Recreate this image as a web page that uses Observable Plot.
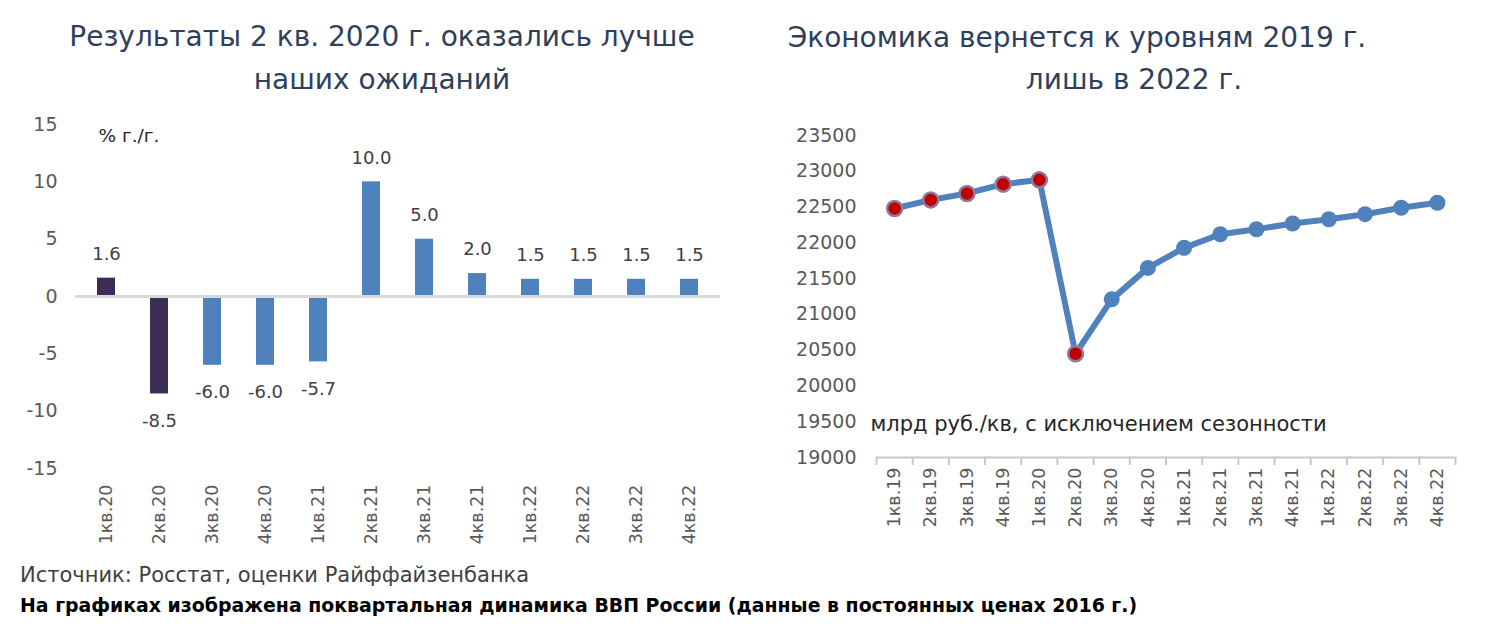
<!DOCTYPE html>
<html>
<head>
<meta charset="utf-8">
<script src="https://cdn.jsdelivr.net/npm/d3@7"></script>
<script src="https://cdn.jsdelivr.net/npm/@observablehq/plot@0.6"></script>
<style>
  body { margin: 0; background: #fff; }
  #page { position: relative; width: 1501px; height: 630px; background: #fff; font-family: "DejaVu Sans", sans-serif; overflow: hidden; }
  .t { position: absolute; white-space: nowrap; }
  .title { font-size: 28px; color: #2e3f5c; text-align: center; line-height: 32px; }
  #left, #right { position: absolute; top: 100px; }
  #left { left: 0; }
  #right { left: 760px; }
</style>
</head>
<body>
<div id="page">
  <div class="t title" style="left:32px; width:700px; top:21px;">Результаты 2 кв. 2020 г. оказались лучше</div>
  <div class="t title" style="left:32px; width:700px; top:64px;">наших ожиданий</div>
  <div class="t title" style="left:727px; width:700px; top:22px;">Экономика вернется к уровням 2019 г.</div>
  <div class="t title" style="left:784px; width:700px; top:64px;">лишь в 2022 г.</div>
  <div id="left"></div>
  <div id="right"></div>
  <div class="t" style="left:20px; top:563px; font-size:21px; color:#404040;">Источник: Росстат, оценки Райффайзенбанка</div>
  <div class="t" style="left:20px; top:594px; font-size:18.9px; font-weight:bold; color:#000;">На графиках изображена поквартальная динамика ВВП России (данные в постоянных ценах 2016 г.)</div>
</div>
<script>
// ---- Left chart data: GDP growth, % y/y
const growthQuarters = ["1кв.20","2кв.20","3кв.20","4кв.20","1кв.21","2кв.21","3кв.21","4кв.21","1кв.22","2кв.22","3кв.22","4кв.22"];
const growthValues   = [1.6, -8.5, -6.0, -6.0, -5.7, 10.0, 5.0, 2.0, 1.5, 1.5, 1.5, 1.5];
const growthStatus   = ["факт","факт","прогноз","прогноз","прогноз","прогноз","прогноз","прогноз","прогноз","прогноз","прогноз","прогноз"];
const growthTicks    = [-15, -10, -5, 0, 5, 10, 15];
const growthUnit     = "% г./г.";

// ---- Right chart data: GDP level, bn RUB per quarter, seasonally adjusted
const levelQuarters = ["1кв.19","2кв.19","3кв.19","4кв.19","1кв.20","2кв.20","3кв.20","4кв.20","1кв.21","2кв.21","3кв.21","4кв.21","1кв.22","2кв.22","3кв.22","4кв.22"];
const levelValues   = [22480, 22600, 22690, 22820, 22880, 20450, 21210, 21650, 21930, 22120, 22190, 22270, 22330, 22400, 22490, 22560];
const levelStatus   = ["факт","факт","факт","факт","факт","факт","прогноз","прогноз","прогноз","прогноз","прогноз","прогноз","прогноз","прогноз","прогноз","прогноз"];
const levelTicks    = [19000, 19500, 20000, 20500, 21000, 21500, 22000, 22500, 23000, 23500];
const levelUnit     = "млрд руб./кв, с исключением сезонности";

const growth = growthQuarters.map((q, i) => ({q, v: growthValues[i], s: growthStatus[i]}));
const level = levelQuarters.map((q, i) => ({i, q, v: levelValues[i], s: levelStatus[i]}));

const BLUE = "#4f81bd", DARK = "#3b2d55", RED = "#c00000";
const font = "DejaVu Sans, sans-serif";

const left = Plot.plot({
  width: 740, height: 460,
  marginTop: 24, marginBottom: 92, marginLeft: 75, marginRight: 20,
  style: {fontFamily: font, color: "#595959", background: "transparent"},
  x: {domain: growthQuarters, paddingInner: 0.665, paddingOuter: 0.3325, label: null},
  y: {domain: [-15, 15], label: null},
  marks: [
    Plot.axisY({ticks: growthTicks, tickSize: 0, tickPadding: 18, fontSize: 19, tickFormat: d => String(d)}),
    Plot.axisX({tickSize: 0, tickPadding: 16, tickRotate: -90, fontSize: 17.5}),
    Plot.barY(growth, {x: "q", y: "v", fill: d => d.s === "факт" ? DARK : BLUE}),
    Plot.ruleY([0], {stroke: "#d9d9d9", strokeWidth: 3}),
    Plot.text(growth.filter(d => d.v >= 0), {x: "q", y: "v", text: d => d.v.toFixed(1), dy: -24, fontSize: 18, fill: "#404040"}),
    Plot.text(growth.filter(d => d.v < 0), {x: "q", y: "v", text: d => d.v.toFixed(1), dy: 27, fontSize: 18, fill: "#404040"}),
    Plot.text([growthUnit], {frameAnchor: "top-left", text: d => d, dx: 23, dy: 4, textAnchor: "start", fontSize: 18.5, fill: "#262626"})
  ]
});
document.getElementById("left").appendChild(left);

const right = Plot.plot({
  width: 741, height: 460,
  marginTop: 35, marginBottom: 103, marginLeft: 116, marginRight: 46,
  style: {fontFamily: font, color: "#595959", background: "transparent"},
  x: {domain: [-0.5, levelQuarters.length - 0.5], label: null},
  y: {domain: [19000, 23500], label: null},
  marks: [
    Plot.axisY({ticks: levelTicks, tickSize: 0, tickPadding: 20, fontSize: 19, tickFormat: d => String(d)}),
    Plot.ruleY([19000], {stroke: "#c8c8c8", strokeWidth: 2}),
    Plot.axisX({ticks: d3.range(-0.5, levelQuarters.length), tickSize: 8, tickFormat: () => "", stroke: "#c8c8c8", strokeWidth: 2}),
    Plot.axisX({ticks: d3.range(levelQuarters.length), tickSize: 0, tickPadding: 10, tickRotate: -90, fontSize: 17.5, tickFormat: i => levelQuarters[i]}),
    Plot.text([levelUnit], {frameAnchor: "bottom-left", text: d => d, dx: -6, dy: -27, textAnchor: "start", fontSize: 21, fill: "#262626"}),
    Plot.line(level, {x: "i", y: "v", stroke: BLUE, strokeWidth: 6, strokeLinejoin: "round"}),
    Plot.dot(level.filter(d => d.s !== "факт"), {x: "i", y: "v", r: 8, fill: BLUE}),
    Plot.dot(level.filter(d => d.s === "факт"), {x: "i", y: "v", r: 7.5, fill: RED, stroke: "#8e7b9e", strokeWidth: 2.5})
  ]
});
document.getElementById("right").appendChild(right);
</script>
</body>
</html>
